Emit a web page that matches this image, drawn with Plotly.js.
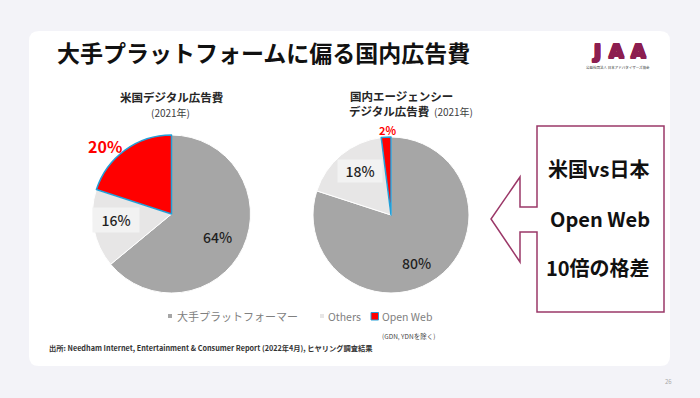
<!DOCTYPE html>
<html>
<head>
<meta charset="utf-8">
<script src="https://cdn.plot.ly/plotly-3.0.1.min.js"></script>
<style>
  html, body { margin: 0; padding: 0; background: #f3f3f8; }
  #chart { width: 700px; height: 398px; }
</style>
</head>
<body>
<div id="chart"></div>
<script>
// ---------- data ----------
const categories = ['大手プラットフォーマー', 'Others', 'Open Web'];
const usValues = [64, 16, 20];
const jpValues = [80, 18, 2];
const pageTitle = '大手プラットフォームに偏る国内広告費';
const usTitle = '米国デジタル広告費';
const jpTitleLine1 = '国内エージェンシー';
const jpTitleLine2 = 'デジタル広告費';
const yearLabel = '(2021年)';
const openWebNote = '(GDN, YDNを除く)';
const sourceText = '出所: Needham Internet, Entertainment & Consumer Report (2022年4月), ヒヤリング調査結果';
const calloutLines = ['米国vs日本', 'Open Web', '10倍の格差'];
const logoLetters = ['J', 'A', 'A'];
const logoSub = '公益社団法人 日本アドバタイザーズ協会';
const pageNumber = '26';

// ---------- style ----------
const W = 700, H = 398;
const FONT = 'Noto Sans CJK JP, Noto Sans, sans-serif';
const sliceColors = ['#a6a6a6', '#e7e6e6', '#ff0000'];
const sliceLine = ['#ffffff', '#ffffff', '#229fd8'];
const sliceLineW = [1, 1, 1.5];
const maroon = '#8c1e50';

function dom(cx, cy, r) {
  return { x: [(cx - r) / W, (cx + r) / W], y: [(H - (cy + r)) / H, (H - (cy - r)) / H] };
}

const pieBase = {
  type: 'pie', labels: categories, sort: false, direction: 'clockwise', rotation: 0,
  textinfo: 'none', hoverinfo: 'label+percent', showlegend: false,
  marker: { colors: sliceColors, line: { color: sliceLine, width: sliceLineW } }
};

const traces = [
  { type: 'scatter', x: [], y: [], showlegend: false, hoverinfo: 'skip' },
  Object.assign({}, pieBase, { values: usValues, domain: dom(171.5, 214, 79) }),
  Object.assign({}, pieBase, { values: jpValues, domain: dom(391, 215, 78) })
];

function ann(text, x, y, opts) {
  return Object.assign({ text: text, x: x, y: y, xref: 'x', yref: 'y', showarrow: false,
    xanchor: 'center', yanchor: 'middle', font: { family: FONT, size: 11, color: '#262626' } }, opts || {});
}

function roundRect(x0, y0, x1, y1, r) {
  return `M ${x0 + r} ${y0} L ${x1 - r} ${y0} Q ${x1} ${y0} ${x1} ${y0 + r} L ${x1} ${y1 - r} Q ${x1} ${y1} ${x1 - r} ${y1} ` +
    `L ${x0 + r} ${y1} Q ${x0} ${y1} ${x0} ${y1 - r} L ${x0} ${y0 + r} Q ${x0} ${y0} ${x0 + r} ${y0} Z`;
}

const labelFont = { family: FONT, size: 14, color: '#1f1f1f', weight: 500 };
const thick = `1px 0 0 ${maroon}, -1px 0 0 ${maroon}, 0 1px 0 ${maroon}, 0 -1px 0 ${maroon}, 1px 1px 0 ${maroon}, -1px -1px 0 ${maroon}, 1px -1px 0 ${maroon}, -1px 1px 0 ${maroon}`;
function logoFont() { return { family: 'DejaVu Sans, ' + FONT, size: 19, color: maroon, weight: 'bold', shadow: thick }; }

const annotations = [
  ann(pageTitle, 55, 52, { xanchor: 'left', font: { family: FONT, size: 23, color: '#111111', weight: 700 } }),
  // logo
  ann(logoLetters[0], 596, 50.5, { font: logoFont(), borderpad: 0 }),
  ann(logoLetters[1], 616, 50.5, { font: logoFont(), borderpad: 0 }),
  ann(logoLetters[2], 638, 50.5, { font: logoFont(), borderpad: 0 }),
  ann(logoSub, 618, 67.5, { font: { family: FONT, size: 3.5, color: '#333333' }, borderpad: 0 }),
  // pie titles
  ann(usTitle, 171, 97, { font: { family: FONT, size: 11.5, color: '#262626', weight: 700 } }),
  ann(yearLabel, 170, 112, { font: { family: FONT, size: 10, color: '#404040' } }),
  ann(jpTitleLine1, 348, 96, { xanchor: 'left', font: { family: FONT, size: 11.5, color: '#262626', weight: 700 } }),
  ann(jpTitleLine2, 347, 111, { xanchor: 'left', font: { family: FONT, size: 11.5, color: '#262626', weight: 700 } }),
  ann(yearLabel, 432, 111, { xanchor: 'left', font: { family: FONT, size: 10, color: '#404040' } }),
  // slice labels US
  ann(usValues[0] + '%', 217, 237, { font: labelFont }),
  ann(usValues[1] + '%', 116, 220, { bgcolor: '#f2f2f2', width: 44, height: 22, font: labelFont }),
  ann(usValues[2] + '%', 105, 146, { font: { family: FONT, size: 16, color: '#ff0000', weight: 700 } }),
  // slice labels JP
  ann(jpValues[0] + '%', 416, 263, { font: labelFont }),
  ann(jpValues[1] + '%', 360, 171, { bgcolor: '#f2f2f2', width: 42, height: 20, font: labelFont }),
  ann(jpValues[2] + '%', 387, 130, { font: { family: FONT, size: 11, color: '#ff0000', weight: 700 } }),
  // legend texts
  ann(categories[0], 175, 316, { xanchor: 'left', font: { family: FONT, size: 11, color: '#808080' } }),
  ann(categories[1], 326, 316, { xanchor: 'left', font: { family: FONT, size: 10.5, color: '#808080' } }),
  ann(categories[2], 380, 316, { xanchor: 'left', font: { family: FONT, size: 10.5, color: '#808080' } }),
  ann(openWebNote, 380, 336, { xanchor: 'left', font: { family: FONT, size: 6.5, color: '#444444' } }),
  // source
  ann(sourceText, 47, 348, { xanchor: 'left', font: { family: FONT, size: 7.25, color: '#333333', weight: 700 } }),
  // callout
  ann(calloutLines[0], 598, 168, { font: { family: FONT, size: 20, color: '#111111', weight: 700 } }),
  ann(calloutLines[1], 600, 218, { font: { family: FONT, size: 20, color: '#111111', weight: 700 } }),
  ann(calloutLines[2], 598, 267, { font: { family: FONT, size: 20, color: '#111111', weight: 700 } }),
  // page number
  ann(pageNumber, 668, 381, { font: { family: FONT, size: 6, color: '#aaaaaa' } })
];

const shapes = [
  { type: 'path', xref: 'x', yref: 'y', layer: 'below', path: roundRect(29, 31, 670, 366, 10),
    fillcolor: '#ffffff', line: { width: 0 } },
  { type: 'path', xref: 'x', yref: 'y', layer: 'below',
    path: 'M 537 126 L 664 126 L 664 312 L 537 312 L 537 232 L 520 232 L 520 262 L 491 219 L 520 177 L 520 207 L 537 207 Z',
    fillcolor: '#ffffff', line: { color: '#9b3868', width: 1.5 } },
  // legend swatches
  { type: 'rect', xref: 'x', yref: 'y', x0: 168, x1: 172, y0: 314, y1: 318, fillcolor: sliceColors[0], line: { width: 0 } },
  { type: 'rect', xref: 'x', yref: 'y', x0: 320, x1: 324, y0: 314, y1: 318, fillcolor: sliceColors[1], line: { width: 0 } },
  { type: 'rect', xref: 'x', yref: 'y', x0: 371, x1: 378.5, y0: 312.5, y1: 320, fillcolor: sliceColors[2], line: { color: sliceLine[2], width: 1 } }
];

const layout = {
  width: W, height: H, margin: { l: 0, r: 0, t: 0, b: 0 },
  paper_bgcolor: '#f3f3f8', plot_bgcolor: 'rgba(0,0,0,0)',
  xaxis: { range: [0, W], visible: false, fixedrange: true },
  yaxis: { range: [H, 0], visible: false, fixedrange: true },
  showlegend: false, annotations: annotations, shapes: shapes
};

Plotly.newPlot('chart', traces, layout, { staticPlot: true, displayModeBar: false });
</script>
</body>
</html>
